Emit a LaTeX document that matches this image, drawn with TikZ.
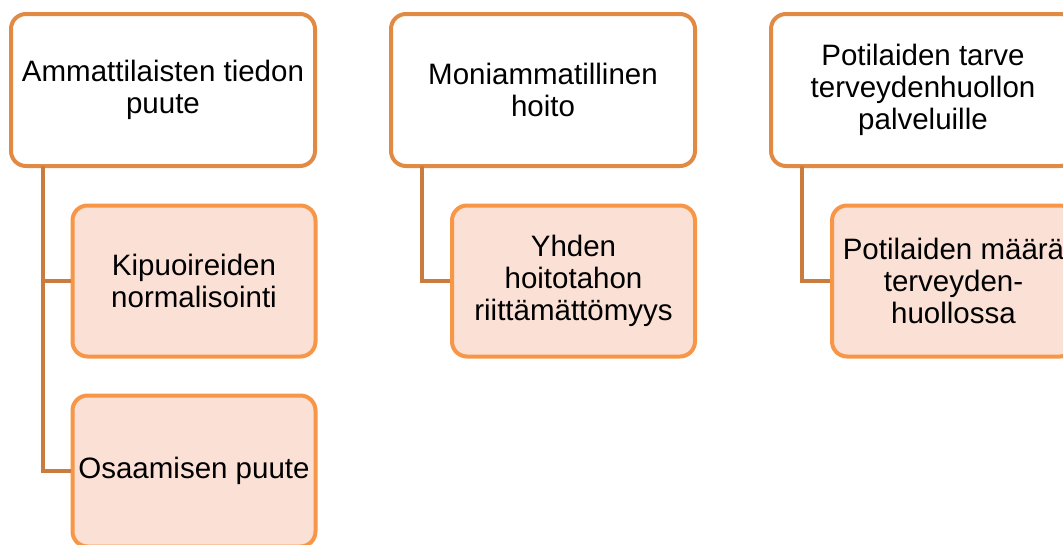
\documentclass[tikz,border=0pt]{standalone}
\usepackage{fontspec}
\setmainfont{Liberation Sans}
\usepackage{tikz}
\usetikzlibrary{positioning}

\definecolor{topline}{HTML}{E08A43}
\definecolor{subline}{HTML}{F79646}
\definecolor{subfill}{HTML}{FBE0D5}
\definecolor{linkline}{HTML}{C97C3E}

\tikzset{
  topbox/.style={draw=topline,line width=4pt,fill=white,rounded corners=15pt,
    minimum width=304pt,minimum height=152pt,align=center,
    font=\fontsize{29.5}{32}\selectfont},
  subbox/.style={draw=subline,line width=4pt,fill=subfill,rounded corners=15pt,
    minimum width=243pt,minimum height=151pt,align=center,
    font=\fontsize{29.5}{32}\selectfont},
  link/.style={draw=linkline,line width=4pt}
}

\begin{document}
\begin{tikzpicture}[x=1pt,y=-1pt]
  \useasboundingbox (0,0) rectangle (1063,544);
  \clip (0,0) rectangle (1063,544);

  %column 1
  \node[topbox] (top1) at (163,90) {Ammattilaisten tiedon\\puute};
  \node[subbox] (sub11) at (194,281) {Kipuoireiden\\normalisointi};
  \node[subbox] (sub12) at (194,471) {Osaamisen puute};

  %column 2
  \node[topbox] (top2) at (543,90) {Moniammatillinen\\hoito};
  \node[subbox] (sub21) at (573.5,281) {Yhden\\hoitotahon\\riittämättömyys};

  %column 3
  \node[topbox] (top3) at (923,90) {Potilaiden tarve\\terveydenhuollon\\palveluille};
  \node[subbox] (sub31) at (953.5,281) {Potilaiden määrä\\terveyden-\\huollossa};

  %links
  \coordinate (root1) at (43,166);
  \coordinate (root2) at (422,166);
  \coordinate (root3) at (802,166);

  \draw[link] (root1) |- (sub11.west);
  \draw[link] (root1) |- (sub12.west);
  \draw[link] (root2) |- (sub21.west);
  \draw[link] (root3) |- (sub31.west);

\end{tikzpicture}
\end{document}
